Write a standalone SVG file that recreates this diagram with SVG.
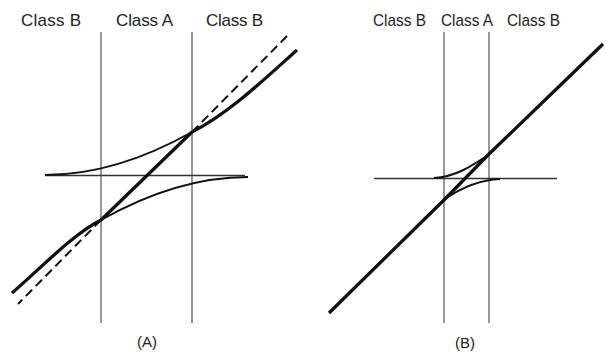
<svg xmlns="http://www.w3.org/2000/svg" width="606" height="352" viewBox="0 0 606 352">
<style>
  .lbl { font-family: "Liberation Sans", Arial, sans-serif; font-size: 17px; fill: #222; }
  .cap { font-family: "Liberation Sans", Arial, sans-serif; font-size: 15px; fill: #222; text-anchor: middle; }
  .axis { stroke: #555; stroke-width: 1.2; fill: none; }
  .hor { stroke: #333; stroke-width: 1.6; fill: none; }
  .thin { stroke: #111; stroke-width: 2; fill: none; }
  .thick { stroke: #111; stroke-width: 3.3; fill: none; stroke-linecap: butt; }
  .dash { stroke: #111; stroke-width: 2; fill: none; stroke-dasharray: 9 5; }
</style>
<rect width="606" height="352" fill="#fff"/>

<g id="panelA">
  <g id="A-labels">
    <text class="lbl" x="21" y="25.5" textLength="60" lengthAdjust="spacing">Class  B</text>
    <text class="lbl" x="116" y="25.5" textLength="57" lengthAdjust="spacing">Class A</text>
    <text class="lbl" x="206" y="25.5" textLength="57" lengthAdjust="spacing">Class B</text>
    <text class="cap" x="147" y="347">(A)</text>
  </g>
  <g id="A-axes">
    <line class="axis" x1="101" y1="32" x2="101" y2="323"/>
    <line class="axis" x1="192" y1="32" x2="192" y2="323"/>
    <line class="hor" x1="45" y1="175.5" x2="245" y2="175.5"/>
  </g>
  <g id="A-curves">
    <path class="thin" d="M45,175 C108,175 160,150 192,132"/>
    <path class="thin" d="M248,177 C185,177 133,202 101,220"/>
    <path class="thick" d="M192,132 C227,114.5 262,81.5 297,50"/>
    <path class="thick" d="M101,220 C73,234 40,269 12,293"/>
    <line class="thick" x1="101" y1="220" x2="192" y2="132"/>
    <line class="dash" x1="192" y1="132" x2="290" y2="33"/>
    <line class="dash" x1="101" y1="220" x2="18" y2="304"/>
  </g>
</g>

<g id="panelB">
  <g id="B-labels">
    <text class="lbl" x="373" y="26" textLength="53" lengthAdjust="spacingAndGlyphs">Class B</text>
    <text class="lbl" x="441" y="26" textLength="52" lengthAdjust="spacingAndGlyphs">Class A</text>
    <text class="lbl" x="507" y="26" textLength="53" lengthAdjust="spacingAndGlyphs">Class B</text>
    <text class="cap" x="465" y="348">(B)</text>
  </g>
  <g id="B-axes">
    <line class="axis" x1="444" y1="32" x2="444" y2="323"/>
    <line class="axis" x1="489" y1="32" x2="489" y2="323"/>
    <line class="hor" x1="374" y1="178.5" x2="557" y2="178.5"/>
  </g>
  <g id="B-curves">
    <path class="thin" d="M434,178 C455,177 472,166 488,155"/>
    <path class="thin" d="M445,199 C461,188 478,180 500,179"/>
    <path class="thick" d="M329,313 L445,199 L488,155 L603,44"/>
  </g>
</g>
</svg>
